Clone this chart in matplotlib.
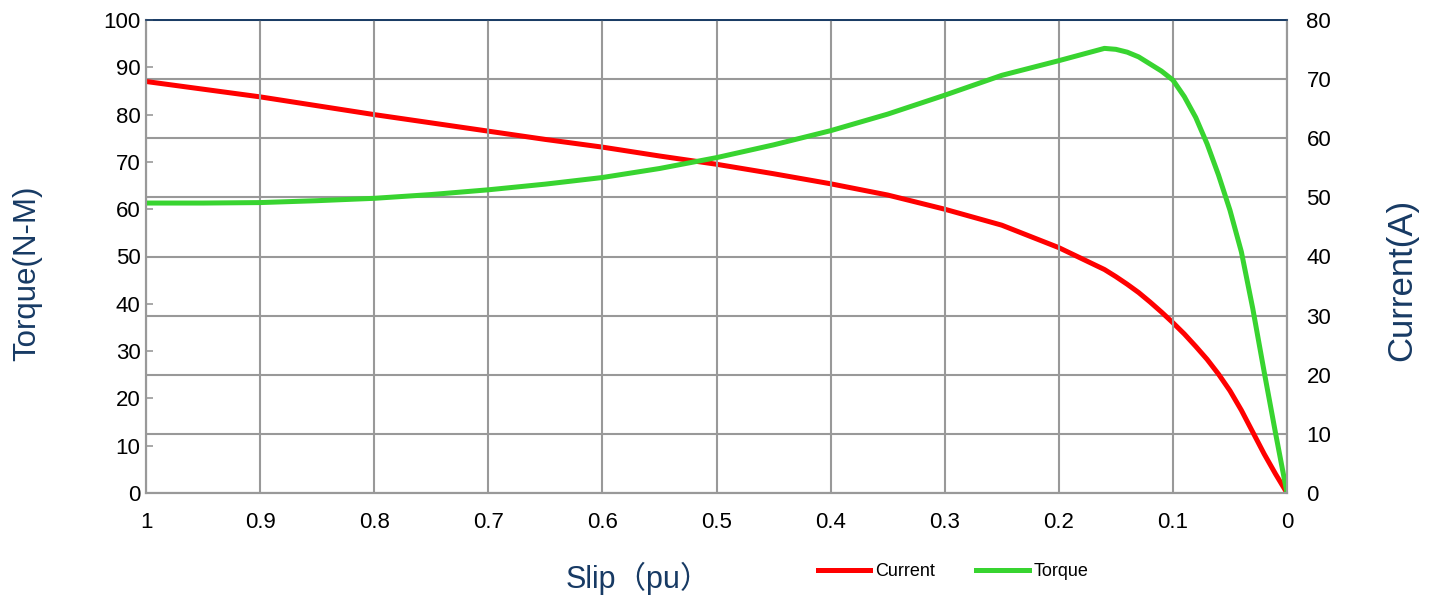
import matplotlib.pyplot as plt
from matplotlib.ticker import FuncFormatter

plt.rcParams['font.family'] = ['Liberation Sans', 'Noto Sans CJK SC', 'DejaVu Sans']

# slip (pu) and readings taken off the curves
slip = [1.0, 0.95, 0.9, 0.85, 0.8, 0.75, 0.7, 0.65, 0.6, 0.55, 0.5, 0.45, 0.4,
        0.35, 0.3, 0.25, 0.2, 0.16, 0.15, 0.14, 0.13, 0.12, 0.11, 0.1, 0.09,
        0.08, 0.07, 0.06, 0.05, 0.04, 0.03, 0.02, 0.01, 0.0]
torque = [61.3, 61.3, 61.4, 61.8, 62.3, 63.1, 64.1, 65.3, 66.7, 68.6, 70.9,
          73.6, 76.6, 80.1, 84.1, 88.3, 91.4, 94.0, 93.8, 93.2, 92.2, 90.7,
          89.2, 87.3, 83.8, 79.4, 73.8, 67.2, 59.8, 51.0, 39.0, 25.6, 12.6,
          0.0]
current = [69.6, 68.3, 67.0, 65.5, 64.0, 62.6, 61.2, 59.8, 58.5, 57.0, 55.6,
           54.0, 52.3, 50.4, 48.0, 45.3, 41.5, 37.8, 36.6, 35.3, 33.9, 32.3,
           30.6, 28.8, 26.9, 24.8, 22.6, 20.1, 17.3, 14.0, 10.3, 6.6, 3.2, 0.0]

navy = '#173a64'
gridc = '#999999'

fig = plt.figure(figsize=(14.33, 5.99), dpi=100)
ax = fig.add_axes([146/1433, 106/599, 1141/1433, 473/599])
ax2 = ax.twinx()
# torque axis drawn on top
ax.set_zorder(ax2.get_zorder() + 1)
ax.patch.set_visible(False)

l1, = ax2.plot(slip, current, color='#ff0000', lw=3.6, label='Current',
               solid_joinstyle='round')
l2, = ax.plot(slip, torque, color='#38d430', lw=3.6, label='Torque',
              solid_joinstyle='round')

ax.set_xlim(1, 0)
ax.set_ylim(0, 100)
ax2.set_ylim(0, 80)
ax.set_xticks([i / 10 for i in range(11)])
ax.set_yticks(range(0, 101, 10))
ax2.set_yticks(range(0, 81, 10))
ax.xaxis.set_major_formatter(FuncFormatter(lambda v, p: '%g' % round(v, 1)))

ax.grid(axis='x', color=gridc, lw=1.5)
ax2.grid(axis='y', color=gridc, lw=1.5)
ax.set_axisbelow(True)

ax.tick_params(axis='y', direction='in', length=5, width=1.2, color=gridc,
               labelsize=16, pad=4)
ax.tick_params(axis='x', length=0, labelsize=16, pad=14)
ax2.tick_params(axis='y', length=0, labelsize=16, pad=14)

for a in (ax, ax2):
    for side in ('left', 'right', 'bottom'):
        a.spines[side].set_color(gridc)
        a.spines[side].set_linewidth(1.5)
    a.spines['top'].set_color(navy)
    a.spines['top'].set_linewidth(1.2)

ax.set_ylabel('Torque(N-M)', fontsize=22.5, color=navy)
ax.yaxis.set_label_coords(-104/1141, 0.465)
ax2.set_ylabel('Current(A)', fontsize=25, color=navy)
ax2.yaxis.set_label_coords(1 + 98/1141, 0.45)
fig.text(638/1433, 1 - 578/599, 'Slip（pu）', fontsize=22, color=navy,
         ha='center', va='center')

fig.legend([l1, l2], ['Current', 'Torque'], loc='center',
           bbox_to_anchor=(953/1433, 1 - 572/599), ncol=2, frameon=False,
           fontsize=13, handlelength=2.9, handletextpad=0.25, columnspacing=2.3)

plt.savefig('out.png')
